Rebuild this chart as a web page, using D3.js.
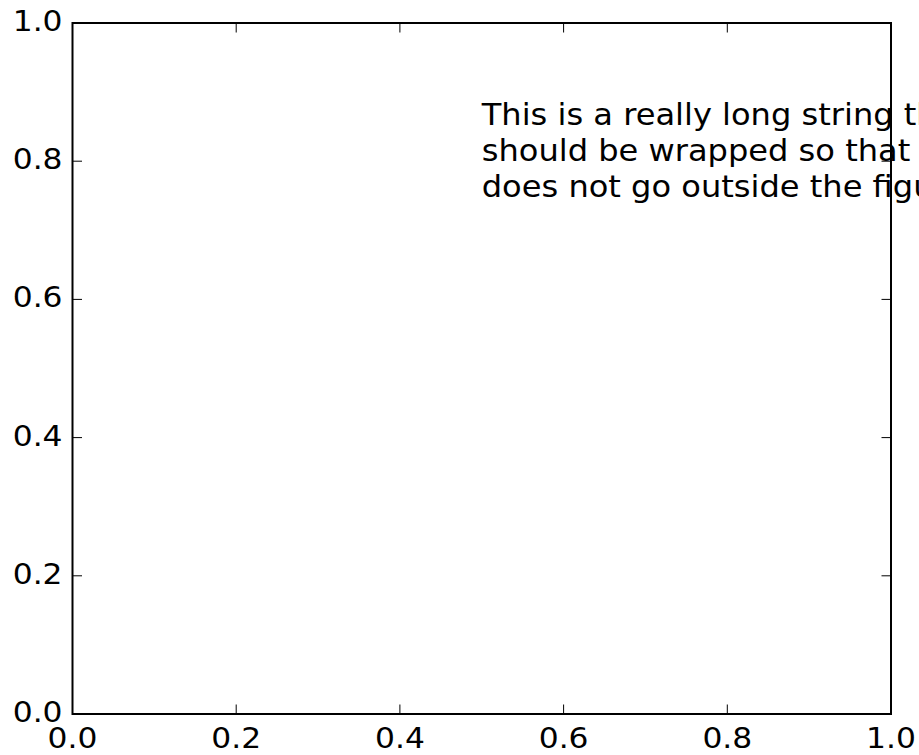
<!DOCTYPE html>
<html><head><meta charset="utf-8">
<script src="https://cdn.jsdelivr.net/npm/d3@7"></script>
<style>body{margin:0;background:#fff;overflow:hidden}svg{display:block}</style>
</head><body>
<script>
const xTicks = [0.0, 0.2, 0.4, 0.6, 0.8, 1.0];
const yTicks = [0.0, 0.2, 0.4, 0.6, 0.8, 1.0];
const textLines = ["This is a really long string that", "should be wrapped so that it", "does not go outside the figure."];
const textPos = [0.5, 0.8];

const W = 919, H = 755;
const m = {left: 72.5, right: 28, top: 23, bottom: 41};
const svg = d3.select("body").append("svg").attr("width", W).attr("height", H);
const x = d3.scaleLinear().domain([0, 1]).range([m.left, W - m.right]);
const y = d3.scaleLinear().domain([0, 1]).range([H - m.bottom, m.top]);
const font = "DejaVu Sans";
const tfs = 29, tsx = 1.08;
const fs = 30, sx = 1.07;
const tickLen = 9.5;
const fmt = d3.format(".1f");

// annotation text (drawn beneath the spines)
const lh = 36;
textLines.forEach((l, i) => {
  svg.append("text")
    .attr("transform", `translate(${x(textPos[0])},${y(textPos[1]) + (i - 1) * lh}) scale(${sx},1)`)
    .attr("font-family", font).attr("font-size", fs).attr("fill", "#000").text(l);
});

const g = svg.append("g");
xTicks.forEach(t => {
  g.append("line").attr("x1", x(t)).attr("x2", x(t)).attr("y1", y(0)).attr("y2", y(0) - tickLen).attr("stroke", "#000").attr("stroke-width", 1);
  g.append("line").attr("x1", x(t)).attr("x2", x(t)).attr("y1", y(1)).attr("y2", y(1) + tickLen).attr("stroke", "#000").attr("stroke-width", 1);
  g.append("text").attr("transform", `translate(${x(t)},${y(0) + 34}) scale(${tsx},1)`).attr("text-anchor", "middle")
    .attr("font-family", font).attr("font-size", tfs).attr("fill", "#000").text(fmt(t));
});
yTicks.forEach(t => {
  g.append("line").attr("x1", x(0)).attr("x2", x(0) + tickLen).attr("y1", y(t)).attr("y2", y(t)).attr("stroke", "#000").attr("stroke-width", 1);
  g.append("line").attr("x1", x(1)).attr("x2", x(1) - tickLen).attr("y1", y(t)).attr("y2", y(t)).attr("stroke", "#000").attr("stroke-width", 1);
  g.append("text").attr("transform", `translate(${x(0) - 10},${y(t) + 8}) scale(${tsx},1)`).attr("text-anchor", "end")
    .attr("font-family", font).attr("font-size", tfs).attr("fill", "#000").text(fmt(t));
});
g.append("rect").attr("x", x(0)).attr("y", y(1)).attr("width", x(1) - x(0)).attr("height", y(0) - y(1))
  .attr("fill", "none").attr("stroke", "#000").attr("stroke-width", 2);
</script>
</body></html>
